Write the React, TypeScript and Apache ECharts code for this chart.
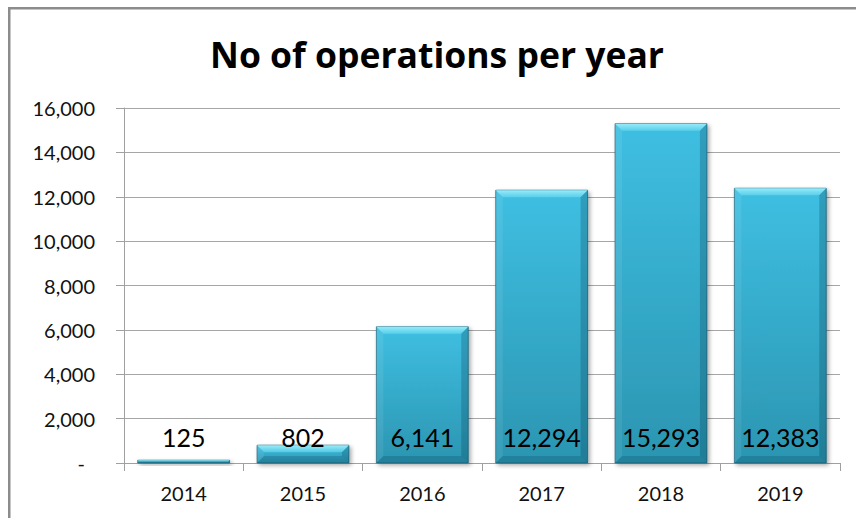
import React, { useEffect, useRef } from "react";
import * as echarts from "echarts";

const categories = ["2014", "2015", "2016", "2017", "2018", "2019"];
const operations = [125, 802, 6141, 12294, 15293, 12383];
const yTicks = [0, 2000, 4000, 6000, 8000, 10000, 12000, 14000, 16000];

const FONT = "Lato, 'Open Sans', 'Noto Sans', sans-serif";
const TITLE_FONT = "'Open Sans', 'Noto Sans', sans-serif";
const BAR_RATIO = 0.77;

function fmt(v: number): string {
  return v.toLocaleString("en-US");
}

export default function App() {
  const ref = useRef<HTMLDivElement>(null);
  useEffect(() => {
    if (!ref.current) return;
    const chart = echarts.init(ref.current, null, { renderer: "svg" });
    const option: any = {
      animation: false,
      backgroundColor: "#ffffff",
      title: {
        text: "No of operations per year",
        left: 432,
        top: 31,
        textAlign: "center",
        textStyle: { fontFamily: TITLE_FONT, fontWeight: "bold", fontSize: 35.5, color: "#000" },
      },
      graphic: [
        {
          type: "rect",
          shape: { x: 9.25, y: 8.25, width: 900, height: 600 },
          style: { fill: "none", stroke: "#8c8c8c", lineWidth: 2.5 },
          silent: true,
          z: 100,
        },
      ],
      grid: { left: 124, right: 16, top: 108, bottom: 55 },
      xAxis: {
        type: "category",
        data: categories,
        axisLine: { show: true, lineStyle: { color: "#a0a0a0", width: 1 } },
        axisTick: { show: true, length: 8, alignWithLabel: false, lineStyle: { color: "#a0a0a0" } },
        axisLabel: { margin: 20, fontFamily: FONT, fontSize: 20, color: "#111" },
      },
      yAxis: {
        type: "value",
        min: 0,
        max: 16000,
        interval: 2000,
        axisLine: { show: true, lineStyle: { color: "#a0a0a0", width: 1 } },
        axisTick: { show: true, length: 8, lineStyle: { color: "#a0a0a0" } },
        splitLine: { show: true, lineStyle: { color: "#a6a6a6", width: 1 } },
        axisLabel: {
          margin: 29,
          fontFamily: FONT,
          fontSize: 20,
          color: "#111",
          formatter: (v: number) => (yTicks.includes(v) && v === 0 ? "{z|-}" : fmt(v)),
          rich: { z: { fontFamily: FONT, fontSize: 20, color: "#111", padding: [0, 10, 0, 0] } },
        },
      },
      series: [
        {
          type: "custom",
          z: 2,
          silent: true,
          data: operations.map((v, i) => [i, v]),
          renderItem: (params: any, api: any) => {
            const idx = api.value(0);
            const v = api.value(1);
            const top = api.coord([idx, v]);
            const base = api.coord([idx, 0]);
            const bw = api.size([1, 0])[0] * BAR_RATIO;
            const x0 = top[0] - bw / 2;
            const x1 = top[0] + bw / 2;
            const y0 = top[1];
            const y1 = base[1];
            const b = Math.min(7, (y1 - y0) / 2);
            return {
              type: "group",
              children: [
                {
                  type: "rect",
                  shape: { x: x0, y: y0, width: bw, height: y1 - y0 },
                  style: {
                    fill: new echarts.graphic.LinearGradient(0, 0, 0, 1, [
                      { offset: 0, color: "#3fbfe2" },
                      { offset: 1, color: "#2b95b1" },
                    ]),
                    stroke: "rgba(25,95,115,0.7)",
                    lineWidth: 1,
                    shadowBlur: 4,
                    shadowOffsetX: 2,
                    shadowOffsetY: 2,
                    shadowColor: "rgba(0,0,0,0.35)",
                  },
                },
                {
                  type: "polygon",
                  shape: { points: [[x0, y0], [x1, y0], [x1 - b, y0 + b], [x0 + b, y0 + b]] },
                  style: {
                    fill: new echarts.graphic.LinearGradient(0, 0, 0, 1, [
                      { offset: 0, color: "rgba(170,245,255,0.85)" },
                      { offset: 1, color: "rgba(120,225,245,0.5)" },
                    ]),
                  },
                },
                {
                  type: "polygon",
                  shape: { points: [[x0, y0], [x0 + b, y0 + b], [x0 + b, y1 - b], [x0, y1]] },
                  style: { fill: "rgba(255,255,255,0.08)" },
                },
                {
                  type: "polygon",
                  shape: { points: [[x1, y0], [x1 - b, y0 + b], [x1 - b, y1 - b], [x1, y1]] },
                  style: { fill: "rgba(0,40,60,0.22)" },
                },
                {
                  type: "polygon",
                  shape: { points: [[x0, y1], [x0 + b, y1 - b], [x1 - b, y1 - b], [x1, y1]] },
                  style: { fill: "rgba(0,40,60,0.18)" },
                },
              ],
            };
          },
        },
        {
          type: "bar",
          z: 3,
          silent: true,
          data: operations,
          barWidth: "77%",
          itemStyle: { color: "rgba(0,0,0,0)" },
          label: {
            show: true,
            position: "insideBottom",
            distance: 14,
            fontFamily: FONT,
            fontSize: 25,
            color: "#000",
            formatter: (p: any) => fmt(p.value),
          },
        },
      ],
    };
    chart.setOption(option);
    return () => chart.dispose();
  }, []);
  return (
    <div
      ref={ref}
      style={{ position: "absolute", left: 0, top: 0, width: 856, height: 518 }}
    />
  );
}
